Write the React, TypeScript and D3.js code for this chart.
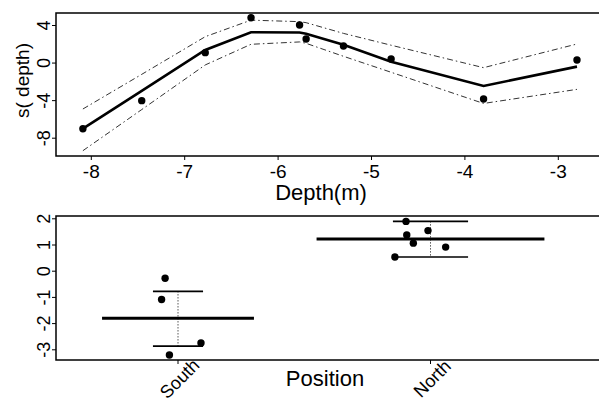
import * as d3 from 'd3';

// top panel: partial residuals and smooth for depth
const depth = [-8.09, -7.46, -6.78, -6.29, -5.77, -5.70, -5.30, -4.79, -3.80, -2.80];
const resid = [-6.99, -4.0, 1.11, 4.83, 4.06, 2.57, 1.82, 0.44, -3.82, 0.33];
const fit = [-6.99, -2.97, 1.40, 3.28, 3.26, 3.13, 1.95, 0.15, -2.44, -0.38];
const upper = [-4.89, -1.2, 2.81, 4.57, 4.41, 4.3, 3.16, 1.9, -0.49, 2.03];
const lower = [-9.33, -4.95, -0.2, 2.0, 2.25, 2.1, 0.72, -0.98, -4.3, -2.8];
const depthTicks = [-8, -7, -6, -5, -4, -3];
const sTicks = [-8, -4, 0, 4];

// bottom panel: position factor
const positions = ['South', 'North'];
const effect = [-1.8, 1.23];
const effectHi = [-0.77, 1.9];
const effectLo = [-2.86, 0.54];
const southPts = [-0.27, -1.08, -2.74, -3.2];
const southJitter = [-0.051, -0.065, 0.091, -0.034];
const northPts = [1.9, 1.38, 1.07, 1.55, 0.92, 0.54];
const northJitter = [-0.097, -0.094, -0.068, -0.01, 0.06, -0.141];
const posTicks = [-3, -2, -1, 0, 1, 2];

const W = 599;
const H = 403;
const FONT = 'Liberation Sans, Arial, Helvetica, sans-serif';

export default function App() {
  const left = 56;
  const right = 606;

  // top
  const t = { top: 13, bottom: 156 };
  const x = d3.scaleLinear().domain([-8, -3]).range([91.3, 558.3]);
  const y = d3.scaleLinear().domain([-8, 4]).range([138.2, 25.5]);
  const idx = d3.range(depth.length);
  const lineOf = (arr: number[]) =>
    d3
      .line<number>()
      .x((i) => x(depth[i]))
      .y((i) => y(arr[i]))(idx) as string;

  // bottom
  const b = { top: 216, bottom: 360 };
  const xb = d3.scaleLinear().domain([1, 2]).range([178, 430.5]);
  const yb = d3.scaleLinear().domain([-3, 2]).range([349.8, 218.8]);
  const groups = [
    { pts: southPts, jit: southJitter },
    { pts: northPts, jit: northJitter },
  ];
  const halfPerObs = 0.0752;
  const sePerObs = 0.0248;

  return (
    <svg width={W} height={H} style={{ position: 'absolute', left: 0, top: 0, background: '#fff' }} fontFamily={FONT}>
      <rect width={W} height={H} fill="#fff" />
      {/* top frame */}
      <rect x={left} y={t.top} width={right - left} height={t.bottom - t.top} fill="none" stroke="#000" strokeWidth={1.5} />
      {depthTicks.map((d) => (
        <g key={'xt' + d}>
          <line x1={x(d)} x2={x(d)} y1={t.bottom} y2={t.bottom + 4} stroke="#000" strokeWidth={1} />
          <text x={x(d)} y={178} fontSize={19} textAnchor="middle">
            {d}
          </text>
        </g>
      ))}
      {sTicks.map((v) => (
        <g key={'yt' + v}>
          <line x1={left - 4} x2={left} y1={y(v)} y2={y(v)} stroke="#000" strokeWidth={1} />
          <text transform={`translate(50,${y(v)}) rotate(-90)`} fontSize={18} textAnchor="middle">
            {v}
          </text>
        </g>
      ))}
      <text x={321} y={200} fontSize={22} textAnchor="middle">
        Depth(m)
      </text>
      <text transform={`translate(29,${(t.top + t.bottom) / 2 - 4}) rotate(-90)`} fontSize={19} textAnchor="middle">
        s( depth)
      </text>
      <path d={lineOf(upper)} fill="none" stroke="#333" strokeWidth={1} strokeDasharray="6,3,1.5,3" />
      <path d={lineOf(lower)} fill="none" stroke="#333" strokeWidth={1} strokeDasharray="6,3,1.5,3" />
      <path d={lineOf(fit)} fill="none" stroke="#000" strokeWidth={2.6} />
      {idx.map((i) => (
        <circle key={'p' + i} cx={x(depth[i])} cy={y(resid[i])} r={3.7} fill="#000" />
      ))}

      {/* bottom frame */}
      <rect x={left} y={b.top} width={right - left} height={b.bottom - b.top} fill="none" stroke="#000" strokeWidth={1.5} />
      {posTicks.map((v) => (
        <g key={'ybt' + v}>
          <line x1={left - 4} x2={left} y1={yb(v)} y2={yb(v)} stroke="#000" strokeWidth={1} />
          <text transform={`translate(50,${yb(v)}) rotate(-90)`} fontSize={18} textAnchor="middle">
            {v}
          </text>
        </g>
      ))}
      {positions.map((p, i) => (
        <g key={p}>
          <line x1={xb(i + 1)} x2={xb(i + 1)} y1={b.bottom} y2={b.bottom + 4} stroke="#000" strokeWidth={1} />
          <text
            transform={`translate(${xb(i + 1) + 6},${383}) rotate(-45)`}
            fontSize={18}
            textAnchor="middle"
          >
            {p}
          </text>
        </g>
      ))}
      <text x={325} y={386} fontSize={22} textAnchor="middle">
        Position
      </text>
      {groups.map((g, i) => {
        const c = i + 1;
        const n = g.pts.length;
        return (
          <g key={'grp' + i}>
            <line x1={xb(c)} x2={xb(c)} y1={yb(effectHi[i])} y2={yb(effectLo[i])} stroke="#000" strokeWidth={1} strokeDasharray="1,2" />
            <line x1={xb(c - n * halfPerObs)} x2={xb(c + n * halfPerObs)} y1={yb(effect[i])} y2={yb(effect[i])} stroke="#000" strokeWidth={3} />
            <line x1={xb(c - n * sePerObs)} x2={xb(c + n * sePerObs)} y1={yb(effectHi[i])} y2={yb(effectHi[i])} stroke="#000" strokeWidth={1.6} />
            <line x1={xb(c - n * sePerObs)} x2={xb(c + n * sePerObs)} y1={yb(effectLo[i])} y2={yb(effectLo[i])} stroke="#000" strokeWidth={1.6} />
            {g.pts.map((v, j) => (
              <circle key={j} cx={xb(c + g.jit[j])} cy={yb(v)} r={3.7} fill="#000" />
            ))}
          </g>
        );
      })}
    </svg>
  );
}
